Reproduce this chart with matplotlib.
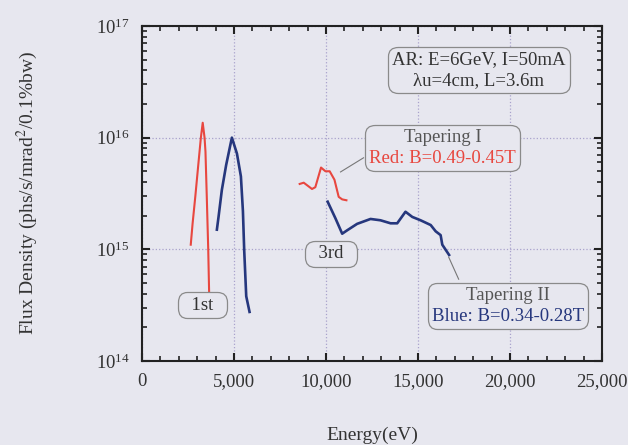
#!/usr/bin/env python3
"""
Undulator flux density spectra, AR 6 GeV, tapered gap
"""

import matplotlib
matplotlib.use("Agg")
import matplotlib.pyplot as plt
from matplotlib.offsetbox import AnnotationBbox, TextArea, VPacker
from matplotlib.ticker import FuncFormatter, MultipleLocator, LogLocator, NullFormatter

# data
red_1st_e = [2650, 2750, 2900, 3050, 3200, 3300, 3400, 3450, 3520, 3600, 3650]
red_1st_f = [1.1e15, 1.7e15, 3.0e15, 5.5e15, 1.0e16, 1.36e16, 1.0e16, 7.5e15, 3.0e15, 1.0e15, 4.0e14]

blue_1st_e = [4070, 4160, 4340, 4575, 4885, 5160, 5375, 5485, 5555, 5665, 5845]
blue_1st_f = [1.5e15, 1.95e15, 3.4e15, 5.7e15, 1.0e16, 7.2e15, 4.5e15, 2.2e15, 9.8e14, 3.8e14, 2.75e14]

red_3rd_e = [8570, 8790, 9240, 9420, 9730, 9970, 10200, 10460, 10690, 10880, 11110]
red_3rd_f = [3.85e15, 3.95e15, 3.47e15, 3.6e15, 5.4e15, 5.0e15, 5.0e15, 4.2e15, 2.95e15, 2.8e15, 2.75e15]

blue_3rd_e = [10090, 10510, 10880, 11150, 11690, 12420, 12960, 13510, 13870, 14320,
              14690, 15140, 15690, 15960, 16230, 16320, 16690]
blue_3rd_f = [2.67e15, 1.9e15, 1.38e15, 1.48e15, 1.69e15, 1.87e15, 1.82e15, 1.71e15, 1.71e15, 2.17e15,
              1.95e15, 1.82e15, 1.65e15, 1.45e15, 1.34e15, 1.1e15, 8.9e14]

x_ticks = [0, 5000, 10000, 15000, 20000, 25000]

RED = '#e8473f'
BLUE = '#26377d'
GREY = '#555555'
DARK = '#333333'
BG = '#e7e7ef'
FS = 13.5

plt.rcParams['font.family'] = ['Liberation Serif', 'DejaVu Serif']
plt.rcParams['mathtext.fontset'] = 'stix'


def label_box(ax, xy, lines, pad=0.35):
    """rounded box holding one or more coloured lines of text"""
    areas = [TextArea(t, textprops=dict(color=c, fontsize=FS)) for t, c in lines]
    pack = VPacker(children=areas, align='center', pad=0, sep=3)
    ab = AnnotationBbox(pack, xy, xycoords='data', frameon=True, pad=pad,
                        bboxprops=dict(boxstyle='round,pad=0.3,rounding_size=0.7',
                                       fc=BG, ec='#8a8a8a', lw=0.9))
    ax.add_artist(ab)


def main():
    fig = plt.figure(figsize=(6.28, 4.45), dpi=100, facecolor=BG)
    ax = fig.add_axes([0.2261, 0.1888, 0.7325, 0.7528], facecolor=BG)

    ax.plot(red_1st_e, red_1st_f, color=RED, lw=1.5)
    ax.plot(blue_1st_e, blue_1st_f, color=BLUE, lw=1.9)
    ax.plot(red_3rd_e, red_3rd_f, color=RED, lw=1.5)
    ax.plot(blue_3rd_e, blue_3rd_f, color=BLUE, lw=1.9)

    ax.set_yscale('log')
    ax.set_xlim(0, 25000)
    ax.set_ylim(1e14, 1e17)
    ax.set_xticks(x_ticks)
    ax.xaxis.set_minor_locator(MultipleLocator(1000))
    ax.xaxis.set_major_formatter(FuncFormatter(lambda v, p: f'{int(v):,}'))
    ax.yaxis.set_major_locator(LogLocator(base=10, numticks=10))
    ax.yaxis.set_minor_locator(LogLocator(base=10, subs=range(2, 10), numticks=10))
    ax.yaxis.set_minor_formatter(NullFormatter())

    ax.tick_params(which='both', direction='in', top=True, right=True,
                   colors='#222222', labelcolor=DARK, labelsize=FS)
    ax.tick_params(which='major', length=6, width=1.5, pad=9)
    ax.tick_params(which='minor', length=3.5, width=1.2)
    for s in ax.spines.values():
        s.set_linewidth(1.5)
        s.set_color('#222222')

    ax.grid(True, which='major', linestyle=':', color='#a9a2cc', lw=0.9)
    ax.set_axisbelow(True)

    ax.set_xlabel('Energy(eV)', fontsize=FS + 0.5, color=DARK)
    ax.xaxis.set_label_coords(0.5, -0.195)
    ax.set_ylabel('Flux Density (phs/s/mrad$^2$/0.1%bw)', fontsize=FS + 0.5, color=DARK)
    ax.yaxis.set_label_coords(-0.222, 0.5)

    label_box(ax, (18300, 4.04e16), [('AR: E=6GeV, I=50mA', DARK), ('\u03bbu=4cm, L=3.6m', DARK)])

    # leader lines
    ax.plot([10790, 12040], [4.93e15, 6.6e15], color='#777777', lw=0.8)
    ax.plot([16670, 17210], [8.5e14, 5.4e14], color='#777777', lw=0.8)

    label_box(ax, (16340, 8.08e15), [('Tapering I', GREY), ('Red: B=0.49-0.45T', RED)])
    label_box(ax, (19880, 3.11e14), [('Tapering II', GREY), ('Blue: B=0.34-0.28T', BLUE)])
    label_box(ax, (10290, 9.08e14), [('  3rd  ', DARK)], pad=0.3)
    label_box(ax, (3270, 3.17e14), [('  1st  ', DARK)], pad=0.3)

    fig.savefig('out.png', dpi=100, facecolor=BG)
    plt.close(fig)


if __name__ == "__main__":
    main()
